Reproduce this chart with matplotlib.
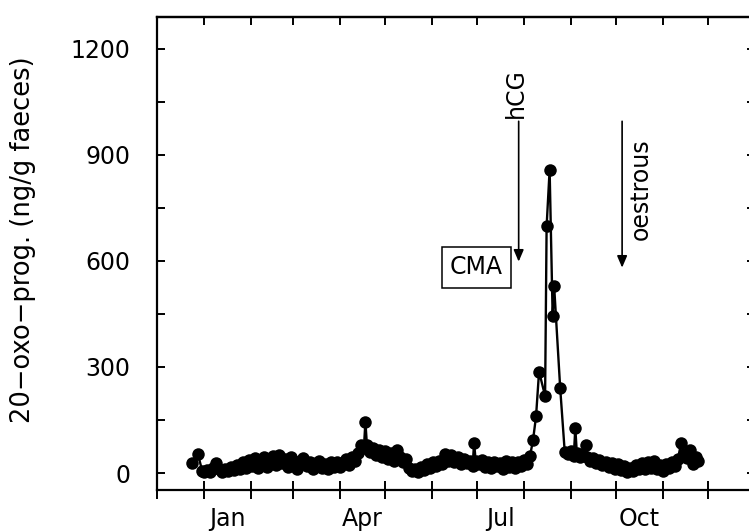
"""Faecal 20-oxo-progestagen profile over one year, with hCG / CMA / oestrous marks."""
import matplotlib
matplotlib.use("Agg")
import matplotlib.pyplot as plt

# sample day (0 = 1 Jan) and hormone value (ng/g faeces)
days = [-8, -4, -1,
        0, 2, 4, 6, 8, 10, 12, 14, 16, 18, 20, 22, 24, 26, 28, 30, 32, 34,
        36, 38, 40, 42, 44, 46, 48, 50, 52, 54, 56, 58, 60, 62, 64, 66, 68,
        70, 72, 74, 76, 78, 80, 82, 84, 86, 88, 90, 92, 94, 96, 98, 100, 102,
        104, 106, 107, 108, 110, 112, 114, 116, 118, 120, 122, 124, 126, 128,
        130, 132, 134, 136, 138, 140, 142, 144, 146, 148, 150, 152, 154, 156,
        158, 160, 162, 164, 166, 168, 170, 172, 174, 176, 178, 179, 180, 182,
        184, 186, 188, 190, 192, 194, 196, 198, 200, 202, 204, 206, 208, 210,
        212, 214, 216,
        218, 220, 222, 226, 227, 229, 231, 232, 236,
        239, 241, 243, 245, 246, 247, 249, 251, 253, 254, 256, 258, 260, 262,
        264, 266, 268, 270, 272, 274, 276, 278, 280, 282, 284, 286, 288, 290,
        292, 294, 296, 298, 300, 302, 304, 306, 308, 310, 312, 314, 316, 318,
        320, 322, 324, 326, 327]
values = [27, 55, 5,
          3, 8, 2, 15, 28, 10, 4, 12, 5, 18, 8, 22, 12, 30, 14, 38, 20, 42,
          15, 32, 45, 18, 30, 48, 22, 52, 28, 40, 18, 45, 25, 12, 35, 42, 20,
          30, 12, 28, 35, 15, 25, 12, 30, 18, 32, 16, 28, 40, 22, 45, 35, 58,
          78, 70, 145, 80, 60, 72, 52, 65, 45, 62, 40, 58, 35, 65,
          45, 30, 40, 15, 5, 10, 3, 18, 8, 25, 15, 30, 20, 35,
          25, 55, 35, 50, 30, 45, 25, 40, 28, 35, 20, 86, 35, 25,
          38, 18, 30, 15, 32, 20, 28, 12, 35, 18, 30, 15, 32, 20,
          38, 25, 48,
          93, 160, 287, 218, 698, 858, 443, 528, 240,
          60, 55, 62, 48, 127, 58, 45, 52, 79, 45, 35, 42, 28, 38,
          22, 32, 18, 28, 12, 25, 8, 20, 3, 15, 5, 22, 10, 28,
          12, 32, 15, 35, 10, 22, 5, 25, 15, 30, 20, 40, 84, 55,
          42, 65, 25, 45, 35]

month_starts = [-31, 0, 31, 59, 90, 120, 151, 181, 212, 243, 273, 304, 334, 365]
label_days = [15.5, 105, 196.5, 288.5]
month_labels = ["Jan", "Apr", "Jul", "Oct"]

HCG_DAY = 208.5
OESTROUS_DAY = 277

plt.rcParams["font.family"] = "DejaVu Sans"
fig = plt.figure(figsize=(7.49, 5.32), dpi=100)
ax = fig.add_axes([157 / 749, 42 / 532, 598 / 749, 473 / 532])

ax.plot(days, values, "-o", color="black", lw=1.7, markersize=9,
        markeredgewidth=0)

ax.set_xlim(-31, 365)
ax.set_ylim(-48, 1290)

for s in ax.spines.values():
    s.set_linewidth(1.6)

# x: month boundaries as crossing ticks, labels at mid-month
ax.set_xticks(month_starts)
ax.set_xticklabels([])
ax.set_xticks(label_days, month_labels, minor=True)
ax.tick_params(axis="x", which="major", direction="inout", length=13,
               width=1.4, top=False)
ax.tick_params(axis="x", which="minor", length=0, pad=12, labelsize=17)
top = ax.secondary_xaxis("top")
top.set_xticks(month_starts[1:])
top.set_xticklabels([])
top.tick_params(direction="in", length=6, width=1.4)
top.spines["top"].set_linewidth(1.6)

# y ticks every 150, labels every 300
ax.set_yticks([0, 300, 600, 900, 1200])
ax.set_yticks([150, 450, 750, 1050], minor=True)
ax.tick_params(axis="y", which="both", direction="in", length=6, width=1.4,
               right=True, labelsize=17, pad=19)
ax.set_ylabel("20\u2212oxo\u2212prog. (ng/g faeces)", fontsize=18.5)
ax.yaxis.set_label_coords(-0.202, 0.53)

arrow = dict(arrowstyle="-|>,head_length=0.7,head_width=0.3", color="black",
             lw=1.2, shrinkA=0, shrinkB=0)
ax.annotate("", xy=(HCG_DAY, 598), xytext=(HCG_DAY, 995), arrowprops=arrow)
ax.text(HCG_DAY - 2, 1003, "hCG", rotation=90, ha="center", va="bottom",
        fontsize=17)
ax.annotate("", xy=(OESTROUS_DAY, 581), xytext=(OESTROUS_DAY, 995),
            arrowprops=arrow)
ax.text(OESTROUS_DAY + 12.5, 660, "oestrous", rotation=90, ha="center",
        va="bottom", fontsize=17)
ax.text(180.5, 582, "CMA", ha="center", va="center", fontsize=17,
        bbox=dict(boxstyle="square,pad=0.35", fc="white", ec="black", lw=1.1))

fig.savefig("out.png", dpi=100)
